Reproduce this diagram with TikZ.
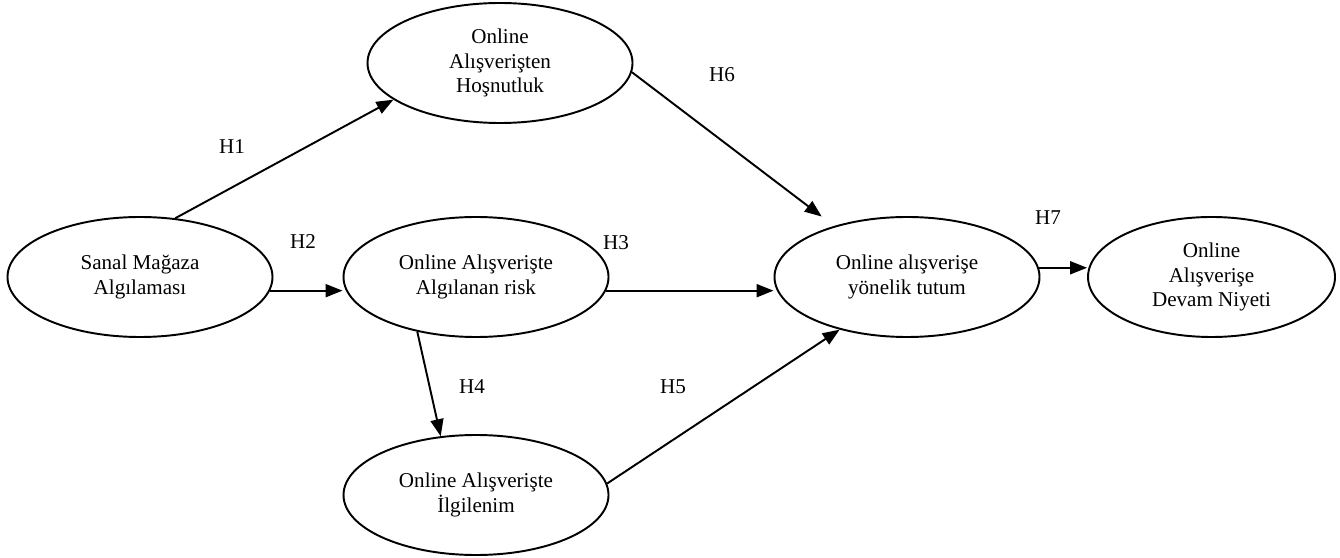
\documentclass[tikz,border=0pt]{standalone}
\usepackage{fontspec}
\setmainfont{Liberation Serif}
\usetikzlibrary{shapes.geometric,arrows.meta}
\begin{document}
\begin{tikzpicture}[
  construct/.style={draw, ellipse, line width=1.1pt, minimum width=5.3cm, minimum height=2.4cm, inner sep=0pt, align=center, font=\fontsize{12}{13.8}\selectfont},
  hyp/.style={font=\fontsize{12}{14}\selectfont, inner sep=0pt},
  link/.style={line width=1.1pt, -{Triangle[length=0.34cm,width=0.26cm]}}
]
\useasboundingbox (0,0) rectangle (26.8,11.14);
\node[construct] (sanal) at (2.8,5.6) {Sanal Mağaza\\Algılaması};
\node[construct] (hos) at (10.0,9.88) {Online\\Alışverişten\\Hoşnutluk};
\node[construct] (risk) at (9.52,5.6) {Online Alışverişte\\Algılanan risk};
\node[construct] (ilg) at (9.52,1.24) {Online Alışverişte\\İlgilenim};
\node[construct] (tutum) at (18.14,5.6) {Online alışverişe\\yönelik tutum};
\node[construct, minimum width=4.94cm] (devam) at (24.23,5.6) {Online\\Alışverişe\\Devam Niyeti};

\node[hyp] (h1) at (4.64,8.2) {H1};
\node[hyp] (h2) at (6.06,6.3) {H2};
\node[hyp] (h3) at (12.32,6.28) {H3};
\node[hyp] (h4) at (9.44,3.4) {H4};
\node[hyp] (h5) at (13.46,3.4) {H5};
\node[hyp] (h6) at (14.44,9.64) {H6};
\node[hyp] (h7) at (20.96,6.78) {H7};

\draw[link] (sanal.59) -- (hos.199);
\draw[link] (sanal.-6.5) -- (sanal.-6.5 -| risk.west);
\draw[link] (risk.-6.2) -- (risk.-6.2 -| tutum.west);
\draw[link] (risk.223) -- (ilg.121);
\draw[link] (ilg.5.3) -- (tutum.218);
\draw[link, shorten >=0.31cm] (hos.-4.8) -- (tutum.145);
\draw[link] (tutum.4) -- (tutum.4 -| devam.west);
\end{tikzpicture}
\end{document}
